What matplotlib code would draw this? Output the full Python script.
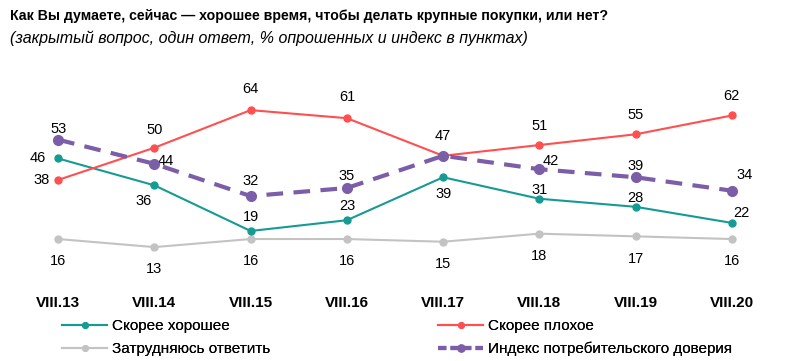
import matplotlib
matplotlib.use('Agg')
import matplotlib.pyplot as plt
from matplotlib.lines import Line2D

years = ['VIII.13', 'VIII.14', 'VIII.15', 'VIII.16', 'VIII.17', 'VIII.18', 'VIII.19', 'VIII.20']
good = [46, 36, 19, 23, 39, 31, 28, 22]
bad = [38, 50, 64, 61, 47, 51, 55, 62]
dunno = [16, 13, 16, 16, 15, 18, 17, 16]
index = [53, 44, 32, 35, 47, 42, 39, 34]

font = 'Liberation Sans'
teal = '#169b93'
red = '#ff4f4f'
grey = '#c3c3c3'
purple = '#7b5ea7'

fig = plt.figure(figsize=(8, 3.61), dpi=100)
ax = fig.add_axes([0.0125, 0.2188, 0.9625, 0.5208])
x = list(range(len(years)))

ax.plot(x, dunno, color=grey, lw=1.5, marker='o', ms=5, zorder=2)
ax.plot(x, good, color=teal, lw=1.5, marker='o', ms=5, zorder=3)
ax.plot(x, bad, color=red, lw=1.5, marker='o', ms=5, zorder=3)
ax.plot(x, index, color=purple, lw=3, ls=(0, (4, 2.5)), marker='o', ms=7, zorder=4)

fs = 10.5
# label offsets in points (dx, dy)
good_off = [(-15, 0), (-8, -11), (0, 10), (0, 10), (0, -12), (0, 6), (0, 6), (7, 7)]
bad_off = [(-12, 0), (0, 13), (0, 15), (0, 15), (0, 14), (0, 14), (0, 14), (0, 14)]
idx_off = [(0, 8), (8, 2), (0, 11), (0, 9), None, (8, 6), (0, 8), (9, 11)]
for i in x:
    dx, dy = good_off[i]
    ax.annotate(str(good[i]), (i, good[i]), xytext=(dx, dy), textcoords='offset points',
                ha='center', va='center', fontsize=fs, family=font)
    dx, dy = bad_off[i]
    ax.annotate(str(bad[i]), (i, bad[i]), xytext=(dx, dy), textcoords='offset points',
                ha='center', va='center', fontsize=fs, family=font)
    if idx_off[i] is not None:
        dx, dy = idx_off[i]
        ax.annotate(str(index[i]), (i, index[i]), xytext=(dx, dy), textcoords='offset points',
                    ha='center', va='center', fontsize=fs, family=font)
    ax.annotate(str(dunno[i]), (i, dunno[i]), xytext=(0, -16), textcoords='offset points',
                ha='center', va='center', fontsize=fs, family=font)

ax.set_xlim(-0.5, 7.5)
ax.set_ylim(0, 70)
ax.set_yticks([])
ax.set_xticks(x)
ax.set_xticklabels(years, fontsize=11, fontweight='bold', family=font)
ax.tick_params(axis='x', length=0, pad=10)
for s in ax.spines.values():
    s.set_visible(False)

fig.text(0.0125, 0.955, 'Как Вы думаете, сейчас — хорошее время, чтобы делать крупные покупки, или нет?',
         fontsize=10.2, fontweight='bold', family=font, va='center')
fig.text(0.0125, 0.893, '(закрытый вопрос, один ответ, % опрошенных и индекс в пунктах)',
         fontsize=11.5, style='italic', family=font, va='center')

legend_items = [
    (Line2D([], [], color=teal, lw=1.5, marker='o', ms=4), 'Скорее хорошее', 0.077, 0.097),
    (Line2D([], [], color=red, lw=1.5, marker='o', ms=4), 'Скорее плохое', 0.547, 0.097),
    (Line2D([], [], color=grey, lw=1.5, marker='o', ms=4), 'Затрудняюсь ответить', 0.077, 0.033),
    (Line2D([], [], color=purple, lw=3, ls=(0, (2, 1)), marker='o', ms=5), 'Индекс потребительского доверия', 0.547, 0.033),
]
for h, lab, lx, ly in legend_items:
    leg = fig.legend([h], [lab], loc='center left', bbox_to_anchor=(lx, ly), frameon=False,
                     prop={'family': font, 'size': 11}, handlelength=3, handletextpad=0.3,
                     borderpad=0, borderaxespad=0)
    fig.add_artist(leg)

fig.savefig('out.png', dpi=100)
